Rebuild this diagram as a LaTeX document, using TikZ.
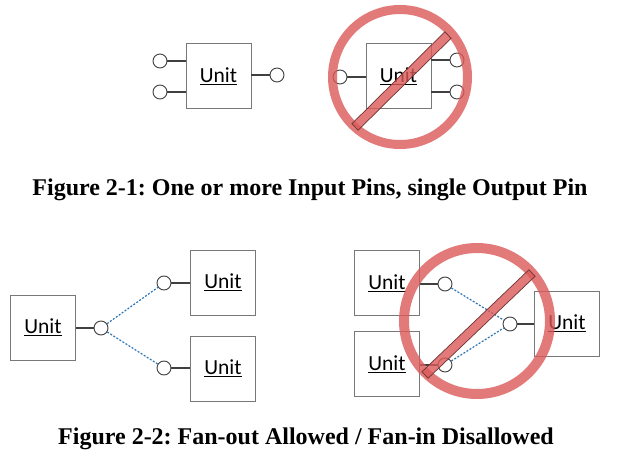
\documentclass[tikz,border=0pt]{standalone}
\usepackage{fontspec}
\setmainfont{Liberation Serif}
\newfontfamily\unitfont{Carlito}
\usetikzlibrary{calc}
\definecolor{pinline}{RGB}{64,64,64}
\definecolor{boxline}{RGB}{120,120,120}
\definecolor{dotblue}{RGB}{46,117,182}
\definecolor{banred}{RGB}{219,89,89}
\definecolor{barline}{RGB}{110,50,50}
\frenchspacing
\begin{document}
\begin{tikzpicture}[x=1pt,y=-1pt,
  unitbox/.style={draw=boxline,line width=0.8pt,fill=white,minimum width=65pt,minimum height=65pt,inner sep=0pt,font=\unitfont\fontsize{21.5}{25}\selectfont},
  pin/.style={circle,draw=pinline,line width=0.9pt,fill=white,minimum size=14pt,inner sep=0pt},
  pinwire/.style={draw=pinline,line width=1.5pt},
  fanwire/.style={draw=dotblue,line width=1.2pt,dash pattern=on 2pt off 1.6pt},
  ring/.style={draw=banred,opacity=0.8},
  caption/.style={font=\bfseries\fontsize{24}{28}\selectfont,inner sep=0pt,anchor=base}]
\useasboundingbox (0,0) rectangle (631,457);
% ---- Figure 2-1 left
\node[unitbox] (ua) at (218.5,76) {\underline{Unit}};
\node[pin] (pa1) at (160,61) {};
\node[pin] (pa2) at (160,92) {};
\node[pin] (pao) at (277,75) {};
\draw[pinwire] (pa1) -- (pa1 -| ua.west);
\draw[pinwire] (pa2) -- (pa2 -| ua.west);
\draw[pinwire] (pao) -- (pao -| ua.east);
% ---- Figure 2-1 right
\node[unitbox] (ub) at (398.5,76) {\underline{Unit}};
\node[pin] (pbi) at (340,77) {};
\node[pin] (pb1) at (457,60) {};
\node[pin] (pb2) at (457,92) {};
\draw[pinwire] (pbi) -- (pbi -| ub.west);
\draw[pinwire] (pb1) -- (pb1 -| ub.east);
\draw[pinwire] (pb2) -- (pb2 -| ub.east);
\coordinate (rc1) at (400,77);
\draw[ring,line width=9pt] (rc1) circle (67.5);
\coordinate (b1s) at (355,127);
\coordinate (b1e) at (448,35);
\fill[banred,opacity=0.8] ($(b1s)!4.5pt!90:(b1e)$) -- ($(b1e)!4.5pt!-90:(b1s)$) -- ($(b1e)!4.5pt!90:(b1s)$) -- ($(b1s)!4.5pt!-90:(b1e)$) -- cycle;
\draw[barline,line width=0.7pt] ($(b1s)!4.5pt!90:(b1e)$) -- ($(b1e)!4.5pt!-90:(b1s)$) -- ($(b1e)!4.5pt!90:(b1s)$) -- ($(b1s)!4.5pt!-90:(b1e)$) -- cycle;
\node[caption] (cap1) at (310,195) {Figure 2-1: One or more Input Pins, single Output Pin};
% ---- Figure 2-2 left (fan-out)
\node[unitbox] (uc) at (43,327.5) {\underline{Unit}};
\node[pin] (pco) at (101,328) {};
\node[unitbox] (ud) at (223,282.5) {\underline{Unit}};
\node[pin] (pdi) at (164,283) {};
\node[unitbox] (ue) at (223,368.5) {\underline{Unit}};
\node[pin] (pei) at (164,368) {};
\draw[pinwire] (pco) -- (pco -| uc.east);
\draw[pinwire] (pdi) -- (pdi -| ud.west);
\draw[pinwire] (pei) -- (pei -| ue.west);
\draw[fanwire] (pco) -- (pdi);
\draw[fanwire] (pco) -- (pei);
% ---- Figure 2-2 right (fan-in)
\node[unitbox] (uf) at (387,283) {\underline{Unit}};
\node[pin] (pfo) at (445,284) {};
\node[unitbox] (ug) at (387,364) {\underline{Unit}};
\node[pin] (pgo) at (445,365) {};
\node[unitbox] (uh) at (567,323.5) {\underline{Unit}};
\node[pin] (phi) at (510,324) {};
\draw[pinwire] (pfo) -- (pfo -| uf.east);
\draw[pinwire] (pgo) -- (pgo -| ug.east);
\draw[pinwire] (phi) -- (phi -| uh.west);
\draw[fanwire] (pfo) -- (phi);
\draw[fanwire] (pgo) -- (phi);
\coordinate (rc2) at (477,321);
\draw[ring,line width=10pt] (rc2) circle (73);
\coordinate (b2s) at (425,375);
\coordinate (b2e) at (532,273);
\fill[banred,opacity=0.8] ($(b2s)!4.5pt!90:(b2e)$) -- ($(b2e)!4.5pt!-90:(b2s)$) -- ($(b2e)!4.5pt!90:(b2s)$) -- ($(b2s)!4.5pt!-90:(b2e)$) -- cycle;
\draw[barline,line width=0.7pt] ($(b2s)!4.5pt!90:(b2e)$) -- ($(b2e)!4.5pt!-90:(b2s)$) -- ($(b2e)!4.5pt!90:(b2s)$) -- ($(b2s)!4.5pt!-90:(b2e)$) -- cycle;
\node[caption] (cap2) at (306,444) {Figure 2-2: Fan-out Allowed / Fan-in Disallowed};
\end{tikzpicture}
\end{document}
